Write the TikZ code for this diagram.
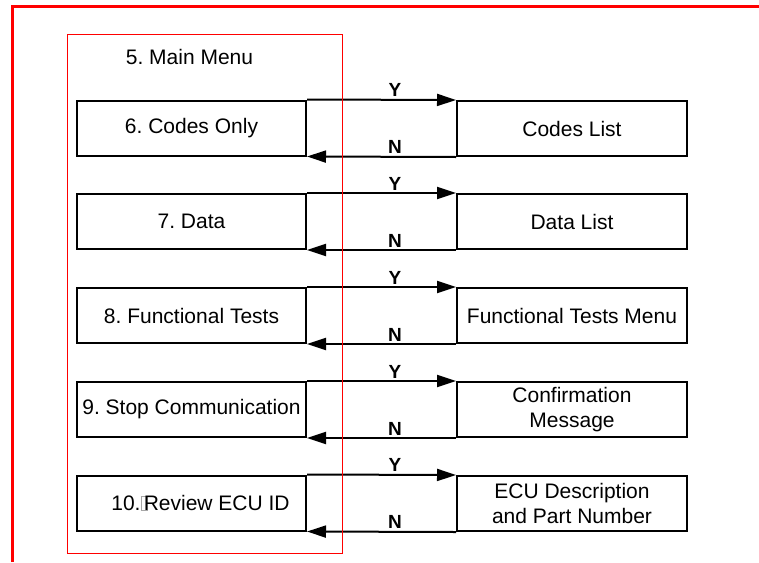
\documentclass[tikz,border=0pt]{standalone}
\usepackage{fontspec}
\setmainfont{Liberation Sans}
\usepackage{tikz}
\usetikzlibrary{arrows.meta}
\frenchspacing
\tikzset{
	menu node/.style={rectangle,draw,line width=2pt,minimum width=229pt,minimum height=55pt,inner sep=0pt,align=center},
	list node/.style={rectangle,draw,line width=2pt,minimum width=230pt,minimum height=55pt,inner sep=0pt,align=center},
	yn/.style={font=\fontsize{19}{21}\selectfont\bfseries,inner sep=2pt}
}
\newcommand{\missingglyph}{{\color{black!35}\setlength{\fboxsep}{0pt}\setlength{\fboxrule}{0.6pt}\fbox{\rule{0pt}{14pt}\hspace{6pt}}}\hspace{-4pt}}

\begin{document}
\begin{tikzpicture}[x=1pt,y=-1pt,font=\fontsize{21}{25}\selectfont,
	    ->,>={Triangle[length=19pt,width=12pt]},line width=2pt]
	\useasboundingbox (0,0) rectangle (759,562);
	% outer frame
	\draw[-,red,line width=2.5pt] (12.5,562) -- (12.5,6.5) -- (759,6.5);
	\node (title) at (189.5,57) {5. Main Menu};
	% menu entries and their screens
	\node [menu node] (m1) at (191.5,128) {6. Codes Only};
	\node [list node] (r1) at (572,128.5) {Codes List};
	\node [menu node] (m2) at (191.5,221.5) {7. Data};
	\node [list node] (r2) at (572,221.5) {Data List};
	\node [menu node] (m3) at (191.5,315.5) {8. Functional Tests};
	\node [list node] (r3) at (572,315.5) {Functional Tests Menu};
	\node [menu node] (m4) at (191.5,409.5) {9. Stop Communication};
	\node [list node] (r4) at (572,409.5) {Confirmation\\Message};
	\node [menu node] (m5) at (191.5,503) {\hspace{18pt}10.\missingglyph Review ECU ID};
	\node [list node] (r5) at (572,503.5) {ECU Description\\and Part Number};
	\foreach \i in {1,...,5}{
		\draw (m\i.north east) -- (r\i.north west) node[yn,pos=0.59,above] {Y};
		\draw (r\i.south west) -- (m\i.south east) node[yn,pos=0.41,above] {N};
	}
	% main menu frame
	\draw[-,red,line width=1pt] (67,34) rectangle (342,553);
\end{tikzpicture}
\end{document}
